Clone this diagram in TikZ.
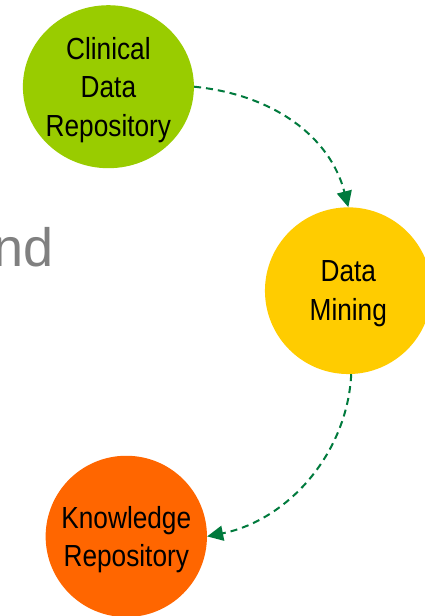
\documentclass[tikz,border=0pt]{standalone}
\usepackage{fontspec}
\setmainfont[FakeStretch=0.86]{Liberation Sans}
\newfontfamily\plainsans{Liberation Sans}
\usetikzlibrary{shapes.geometric,arrows.meta}
\definecolor{cgreen}{HTML}{99CC00}
\definecolor{cyellow}{HTML}{FFCC00}
\definecolor{corange}{HTML}{FF6600}
\definecolor{carrow}{HTML}{007A3D}
\definecolor{cgray}{HTML}{808080}
\tikzset{
  blob/.style={draw=none, inner sep=0pt},
  lbl/.style={align=center, inner sep=0pt, text=black,
    font=\fontsize{30.5}{38.5}\selectfont},
  flow/.style={draw=carrow, line width=2pt, dash pattern=on 7pt off 5pt,
    -{Triangle[length=16pt,width=15pt]}}
}
\begin{document}
\begin{tikzpicture}[x=1pt,y=-1pt]
\clip (0,0) rectangle (425,616);
\fill[white] (0,0) rectangle (425,616);
% gray partial text
\node[anchor=base east, inner sep=0pt, text=cgray,
  font=\plainsans\fontsize{54}{60}\selectfont] (nd) at (54,266) {nd};
% shapes
\node[blob, ellipse, fill=cgreen, minimum width=171pt, minimum height=163pt] (c1) at (108.4,86.7) {};
\node[blob, circle, fill=cyellow, minimum size=166.7pt] (c2) at (348.3,290.7) {};
\node[blob, circle, fill=corange, minimum size=161.3pt] (c3) at (126.3,536.4) {};
% labels
\node[lbl] (t1) at ([yshift=-3.3pt]c1.center) {Clinical\\Data\\Repository};
\node[lbl] (t2) at ([yshift=-3.1pt]c2.center) {Data\\Mining};
\node[lbl] (t3) at ([yshift=-3.4pt]c3.center) {Knowledge\\Repository};
% connectors
\draw[flow] (c1.east) .. controls +(80,8) and +(-18,-70) .. (c2.north);
\draw[flow] (c2.272) .. controls +(-4,80) and +(80,-16) .. (c3.east);
\end{tikzpicture}
\end{document}
